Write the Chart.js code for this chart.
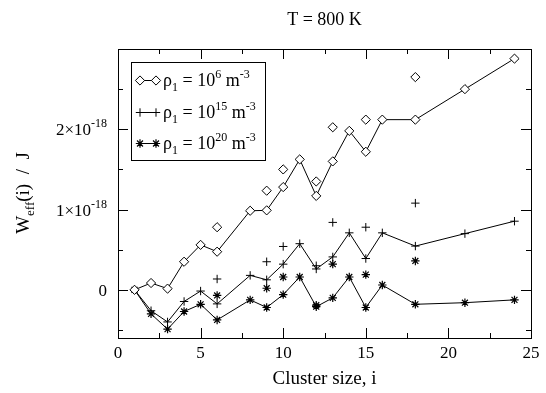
<!DOCTYPE html>
<html><head><meta charset="utf-8">
<script src="https://cdn.jsdelivr.net/npm/chart.js@4/dist/chart.umd.min.js"></script>
<style>html,body{margin:0;padding:0;background:#fff}canvas{display:block}</style>
</head><body>
<canvas id="c" width="546" height="393"></canvas>
<script>
// ---- text ----
const chartTitle = "T = 800 K";
const xTitle = "Cluster size, i";
const xTickValues = [0, 5, 10, 15, 20, 25];
const xMinorTicks = [2.5, 7.5, 12.5, 17.5, 22.5];
const yTickValues = [0, 1, 2, 3];          // in units of 1e-18 J
const yMinorTicks = [-0.5, 0.5, 1.5, 2.5];
const yTickLabels = ["0", "1×10|-18", "2×10|-18", ""];
const legendDensities = ["6", "15", "20"];  // exponent of rho_1 in m^-3

// ---- data: cluster size i and W_eff(i) in units of 1e-18 J ----
const sizesMain  = [1, 2, 3, 4, 5, 6, 8, 9, 10, 11, 12, 13, 14, 15, 16, 18, 21, 24];
const sizesExtra = [6, 9, 10, 12, 13, 15, 18];

const rho6Main   = [0, 0.085, 0.015, 0.35, 0.56, 0.475, 0.985, 0.99, 1.28, 1.625, 1.17, 1.60, 1.98, 1.72, 2.12, 2.12, 2.50, 2.88];
const rho6Extra  = [0.78, 1.235, 1.50, 1.35, 2.025, 2.12, 2.65];

const rho15Main  = [0, -0.26, -0.40, -0.145, -0.015, -0.175, 0.18, 0.125, 0.32, 0.575, 0.26, 0.41, 0.71, 0.39, 0.71, 0.545, 0.70, 0.855];
const rho15Extra = [0.135, 0.35, 0.54, 0.30, 0.84, 0.78, 1.08];

const rho20Main  = [0, -0.30, -0.49, -0.27, -0.18, -0.375, -0.125, -0.22, -0.06, 0.16, -0.21, -0.10, 0.16, -0.22, 0.06, -0.18, -0.16, -0.125];
const rho20Extra = [-0.07, 0.02, 0.16, -0.19, 0.32, 0.19, 0.36];

const FONT = '"Liberation Serif","Times New Roman",serif';

function pts(xs, ys) { return xs.map((x, k) => ({ x: x, y: ys[k] })); }

const styles = [
  { style: 'rectRot', radius: 4.6, bg: '#fff', bw: 1 },
  { style: 'cross',   radius: 4.2, bg: '#000', bw: 1 },
  { style: 'star',    radius: 4.2, bg: '#000', bw: 1.2 }
];
const mains = [rho6Main, rho15Main, rho20Main];
const extras = [rho6Extra, rho15Extra, rho20Extra];

const datasets = [];
for (let s = 0; s < 3; s++) {
  const st = styles[s];
  datasets.push({
    data: pts(sizesMain, mains[s]), showLine: true, borderColor: '#000', borderWidth: 1,
    pointStyle: st.style, pointRadius: st.radius, pointBorderWidth: st.bw,
    pointBackgroundColor: st.bg, pointBorderColor: '#000'
  });
  datasets.push({
    data: pts(sizesExtra, extras[s]), showLine: false, borderColor: '#000', borderWidth: 1,
    pointStyle: st.style, pointRadius: st.radius, pointBorderWidth: st.bw,
    pointBackgroundColor: st.bg, pointBorderColor: '#000'
  });
}

function richWidth(ctx, parts) {
  let w = 0;
  for (const p of parts) { ctx.font = p.size + 'px ' + FONT; w += ctx.measureText(p.t).width; }
  return w;
}
function drawRich(ctx, parts, x, y, align) {
  const w = richWidth(ctx, parts);
  let cx = align === 'right' ? x - w : align === 'center' ? x - w / 2 : x;
  ctx.textBaseline = 'alphabetic';
  ctx.textAlign = 'left';
  for (const p of parts) {
    ctx.font = p.size + 'px ' + FONT;
    ctx.fillText(p.t, cx, y + (p.dy || 0));
    cx += ctx.measureText(p.t).width;
  }
}

const framePlugin = {
  id: 'frame',
  beforeDatasetsDraw(chart) {
    const ctx = chart.ctx, a = chart.chartArea;
    const xs = chart.scales.x, ys = chart.scales.y;
    ctx.save();
    ctx.strokeStyle = '#000'; ctx.lineWidth = 1;
    ctx.beginPath();
    const tick = (v, len, horiz) => {
      if (horiz) {
        const px = Math.round(xs.getPixelForValue(v)) + 0.5;
        ctx.moveTo(px, a.bottom); ctx.lineTo(px, a.bottom - len);
        ctx.moveTo(px, a.top); ctx.lineTo(px, a.top + len);
      } else {
        const py = Math.round(ys.getPixelForValue(v)) + 0.5;
        ctx.moveTo(a.left, py); ctx.lineTo(a.left + len, py);
        ctx.moveTo(a.right, py); ctx.lineTo(a.right - len, py);
      }
    };
    xTickValues.forEach(v => tick(v, 10, true));
    xMinorTicks.forEach(v => tick(v, 5, true));
    yTickValues.forEach(v => tick(v, 10, false));
    yMinorTicks.forEach(v => tick(v, 5, false));
    ctx.stroke();
    ctx.strokeRect(a.left + 0.5, a.top + 0.5, a.right - a.left, a.bottom - a.top);
    ctx.restore();
  },
  afterDraw(chart) {
    const ctx = chart.ctx, a = chart.chartArea;
    const xs = chart.scales.x, ys = chart.scales.y;
    ctx.save();
    ctx.fillStyle = '#000';
    // title
    drawRich(ctx, [{ t: chartTitle, size: 18 }], (a.left + a.right) / 2, 25, 'center');
    // x tick labels
    xTickValues.forEach(v => {
      drawRich(ctx, [{ t: String(v), size: 17 }], xs.getPixelForValue(v), 358, 'center');
    });
    // y tick labels
    yTickValues.forEach((v, k) => {
      const lab = yTickLabels[k];
      if (!lab) return;
      const py = ys.getPixelForValue(v);
      const [base, sup] = lab.split('|');
      const parts = [{ t: base, size: 17 }];
      if (sup) parts.push({ t: sup, size: 12, dy: -8 });
      drawRich(ctx, parts, 107, py + 6, 'right');
    });
    // x title
    drawRich(ctx, [{ t: xTitle, size: 19 }], (a.left + a.right) / 2, 384, 'center');
    // y title (rotated)
    ctx.save();
    ctx.translate(29, 193);
    ctx.rotate(-Math.PI / 2);
    drawRich(ctx, [{ t: 'W', size: 19 }, { t: 'eff', size: 13, dy: 5 }, { t: '(i)  /  J', size: 19 }], 0, 0, 'center');
    ctx.restore();
    // legend
    ctx.fillStyle = '#fff';
    ctx.fillRect(131.5, 62.5, 134, 98);
    ctx.strokeStyle = '#000'; ctx.lineWidth = 1;
    ctx.strokeRect(131.5, 62.5, 134, 98);
    ctx.fillStyle = '#000';
    const rows = [80, 112, 143];
    for (let s = 0; s < 3; s++) {
      const y = rows[s], st = styles[s];
      ctx.beginPath(); ctx.moveTo(138, y + 0.5); ctx.lineTo(158, y + 0.5); ctx.stroke();
      [140, 156].forEach(px => {
        ctx.save();
        ctx.lineWidth = st.bw; ctx.strokeStyle = '#000'; ctx.fillStyle = st.bg;
        Chart.helpers.drawPoint(ctx, { pointStyle: st.style, radius: st.radius, borderWidth: st.bw, rotation: 0 }, px, y + 0.5);
        ctx.restore();
      });
      ctx.fillStyle = '#000';
      drawRich(ctx, [
        { t: 'ρ', size: 18 }, { t: '1', size: 12, dy: 5 },
        { t: ' = 10', size: 18 }, { t: legendDensities[s], size: 12, dy: -8 },
        { t: ' m', size: 18 }, { t: '-3', size: 12, dy: -8 }
      ], 163, y + 6, 'left');
    }
    ctx.restore();
  }
};

new Chart(document.getElementById('c'), {
  type: 'scatter',
  data: { datasets: datasets },
  options: {
    responsive: false, devicePixelRatio: 1, animation: false,
    layout: { padding: { top: 49, right: 15, bottom: 0, left: 0 } },
    plugins: { legend: { display: false }, tooltip: { enabled: false }, title: { display: false } },
    elements: { line: { tension: 0 } },
    scales: {
      x: {
        type: 'linear', min: 0, max: 25,
        grid: { display: false }, border: { display: false }, ticks: { display: false },
        afterFit(s) { s.height = 55; }
      },
      y: {
        type: 'linear', min: -0.6, max: 3,
        grid: { display: false }, border: { display: false }, ticks: { display: false },
        afterFit(s) { s.width = 118; }
      }
    }
  },
  plugins: [framePlugin]
});
</script>
</body></html>
